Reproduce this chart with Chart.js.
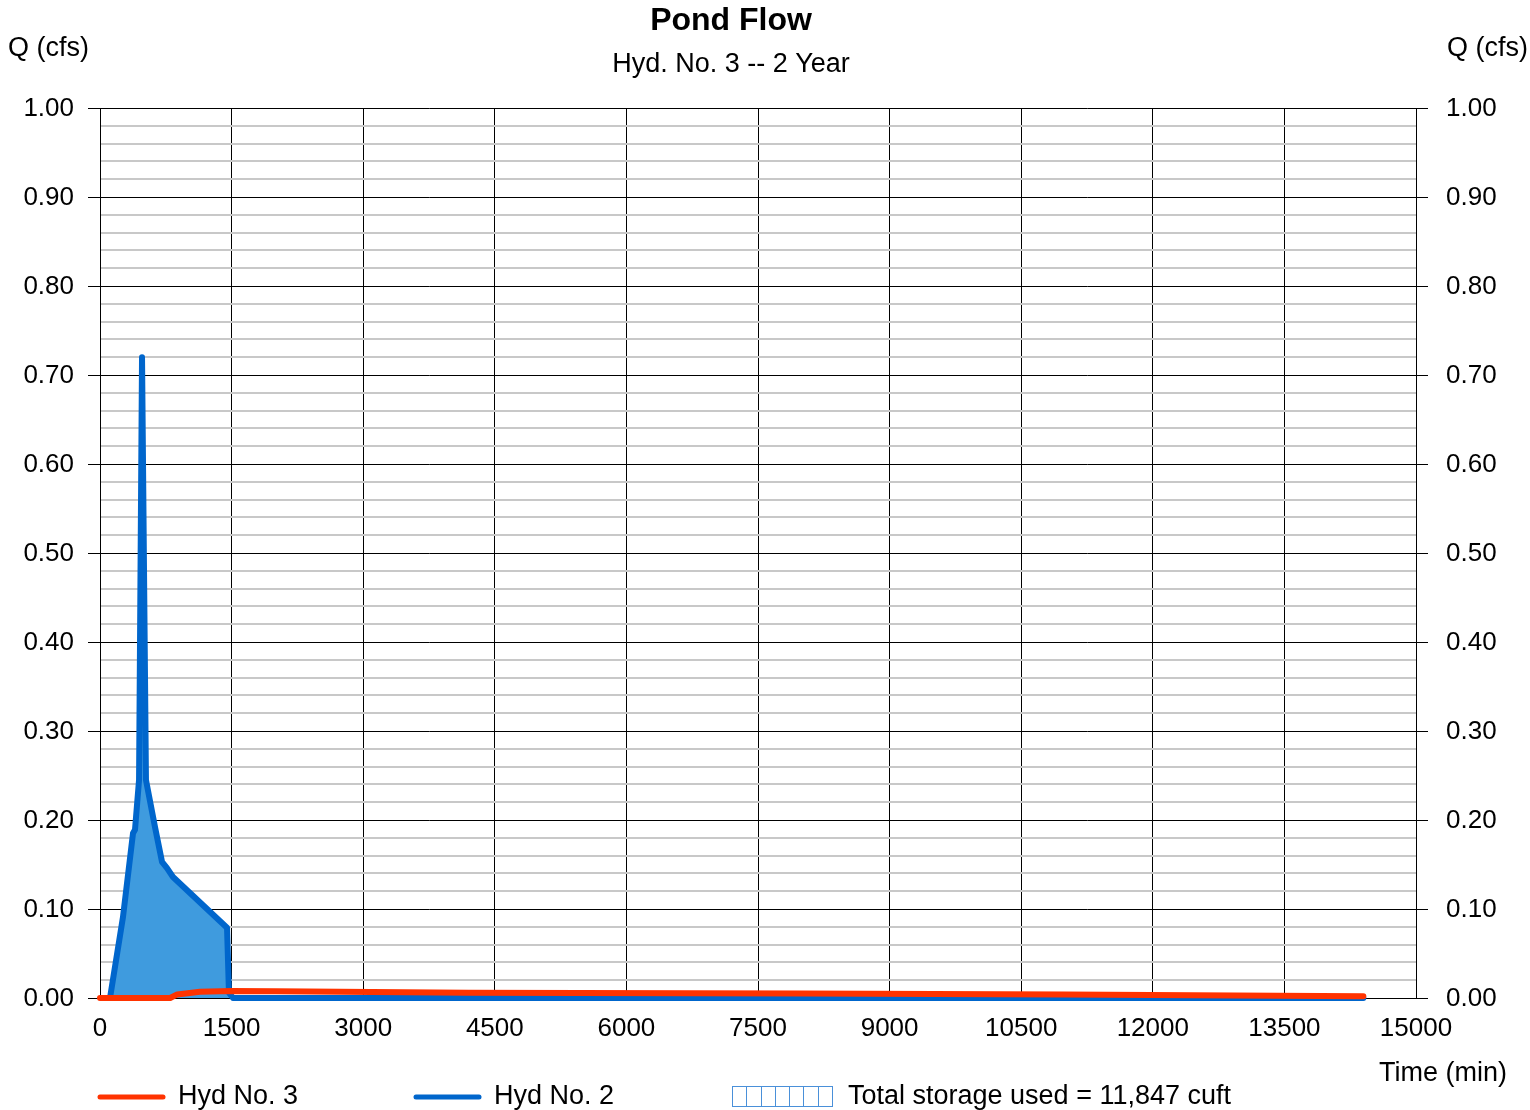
<!DOCTYPE html>
<html>
<head>
<meta charset="utf-8">
<title>Pond Flow</title>
<script src="https://cdn.jsdelivr.net/npm/chart.js@4"></script>
<style>
  html, body { margin: 0; padding: 0; background: #fff; }
  #wrap { width: 1530px; height: 1110px; }
</style>
</head>
<body>
<div id="wrap"><canvas id="pondChart" width="1530" height="1110"></canvas></div>
<script>
// outflow hydrograph (Hyd No. 3)
const outTime = [0, 800, 880, 1140, 1500, 2000, 4200, 8000, 11000, 14400];
const outFlow = [0, 0, 0.004, 0.007, 0.008, 0.0075, 0.006, 0.005, 0.004, 0.002];

// inflow hydrograph (Hyd No. 2)
const inTime = [114, 262, 376, 399, 445, 479, 524, 627, 707, 764, 832, 1448, 1470, 1516, 14400];
const inFlow = [0, 0.091, 0.185, 0.189, 0.245, 0.72, 0.245, 0.192, 0.153, 0.146, 0.136, 0.079, 0.006, 0, 0];

const X_TICKS = { min: 0, max: 15000, step: 1500 };
const Y_TICKS = { min: 0, max: 1, step: 0.02 };
const LEGEND_LABELS = ['Hyd No. 3', 'Hyd No. 2', 'Total storage used = 11,847 cuft'];

const RED = '#ff3300';
const BLUE = '#0066cc';
const BLUE_FILL = '#3f9bde';
const FONT = '"Liberation Sans", Arial, sans-serif';

const toPoints = (xs, ys) => xs.map((x, i) => ({ x: x, y: ys[i] }));

const isMajor = v => Math.round(v * 100) % 10 === 0;
const yLabel = v => isMajor(v) ? Number(v).toFixed(2) : '';

// titles, axis captions and the legend row
const decorations = {
  id: 'decorations',
  afterDraw(chart) {
    const c = chart.ctx;
    c.save();
    c.fillStyle = '#000';
    c.textBaseline = 'middle';

    c.textAlign = 'center';
    c.font = 'bold 32px ' + FONT;
    c.fillText('Pond Flow', 731, 21);
    c.font = '27px ' + FONT;
    c.fillText('Hyd. No. 3 -- 2 Year', 731, 65);

    c.textAlign = 'left';
    c.fillText('Q (cfs)', 8, 49);
    c.fillText('Q (cfs)', 1447, 49);
    c.fillText('Time (min)', 1379, 1074);

    // legend
    const ly = 1097;
    c.lineCap = 'round';
    c.lineWidth = 5;
    c.strokeStyle = RED;
    c.beginPath(); c.moveTo(100, ly); c.lineTo(163, ly); c.stroke();
    c.strokeStyle = BLUE;
    c.beginPath(); c.moveTo(416, ly); c.lineTo(479, ly); c.stroke();
    c.fillText(LEGEND_LABELS[0], 178, ly);
    c.fillText(LEGEND_LABELS[1], 494, ly);

    const bx = 732, by = 1086, bw = 100, bh = 20;
    c.lineCap = 'butt';
    c.lineWidth = 1;
    c.strokeStyle = '#4a90d9';
    c.strokeRect(bx + 0.5, by + 0.5, bw, bh);
    for (let i = 1; i < 7; i++) {
      const x = Math.round(bx + i * bw / 7) + 0.5;
      c.beginPath(); c.moveTo(x, by); c.lineTo(x, by + bh); c.stroke();
    }
    c.fillText(LEGEND_LABELS[2], 848, ly);
    c.restore();
  }
};

const yTicks = {
  stepSize: Y_TICKS.step,
  autoSkip: false,
  labelOffset: 1,
  color: '#000',
  font: { family: FONT, size: 26 },
  callback: yLabel
};

const ctx = document.getElementById('pondChart').getContext('2d');
const pondChart = new Chart(ctx, {
  type: 'line',
  data: {
    datasets: [{
      label: LEGEND_LABELS[0],
      data: toPoints(outTime, outFlow),
      borderColor: RED,
      borderWidth: 6,
      borderCapStyle: 'round',
      borderJoinStyle: 'round',
      pointRadius: 0,
      clip: false,
      fill: false
    }, {
      label: LEGEND_LABELS[1],
      data: toPoints(inTime, inFlow),
      borderColor: BLUE,
      borderWidth: 6,
      borderCapStyle: 'round',
      borderJoinStyle: 'round',
      backgroundColor: BLUE_FILL,
      pointRadius: 0,
      clip: false,
      fill: 'origin'
    }]
  },
  options: {
    responsive: false,
    animation: false,
    layout: { padding: { top: 108, left: 0, right: 0, bottom: 0 } },
    plugins: {
      legend: { display: false },
      tooltip: { enabled: false }
    },
    scales: {
      x: {
        type: 'linear',
        min: X_TICKS.min,
        max: X_TICKS.max,
        border: { color: '#000', width: 1 },
        grid: { color: '#000', lineWidth: 1, drawTicks: false },
        ticks: {
          stepSize: X_TICKS.step,
          autoSkip: false,
          maxRotation: 0,
          padding: 15,
          color: '#000',
          font: { family: FONT, size: 26 },
          callback: v => String(v)
        },
        afterFit: s => { s.height = 112; }
      },
      y: {
        position: 'left',
        min: Y_TICKS.min,
        max: Y_TICKS.max,
        border: { color: '#000', width: 1 },
        grid: {
          color: c => isMajor(c.tick.value) ? '#000' : '#c8c8c8',
          lineWidth: c => isMajor(c.tick.value) ? 1 : 2,
          tickColor: c => isMajor(c.tick.value) ? '#000' : 'rgba(0,0,0,0)',
          tickLength: 12,
          tickWidth: 1
        },
        ticks: Object.assign({ padding: 14 }, yTicks),
        afterFit: s => { s.width = 100; }
      },
      y2: {
        position: 'right',
        min: Y_TICKS.min,
        max: Y_TICKS.max,
        border: { color: '#000', width: 1 },
        grid: {
          drawOnChartArea: false,
          tickColor: c => isMajor(c.tick.value) ? '#000' : 'rgba(0,0,0,0)',
          tickLength: 12,
          tickWidth: 1
        },
        ticks: Object.assign({ padding: 18 }, yTicks),
        afterFit: s => { s.width = 114; }
      }
    }
  },
  plugins: [decorations]
});
</script>
</body>
</html>
